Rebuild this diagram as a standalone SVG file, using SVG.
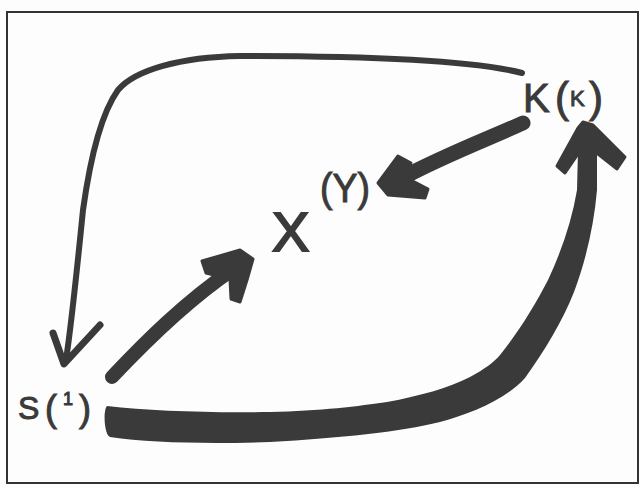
<svg xmlns="http://www.w3.org/2000/svg" width="640" height="488" viewBox="0 0 640 488">
<style>
.ink{fill:#3a3a3a}
.line{fill:none;stroke:#3a3a3a;stroke-linecap:round;stroke-linejoin:round}
.lbl{font-family:"Liberation Sans","DejaVu Sans",sans-serif;fill:#3a3a3a;stroke:#3a3a3a}
</style>
<rect width="640" height="488" fill="#fdfdfd"/>
<rect x="7" y="12" width="631" height="471" fill="none" stroke="#333" stroke-width="2"/>
<g id="connectors">
<g id="k-to-s">
<path class="line" stroke-width="6" d="M522,73 C480,62 380,56 240,56 C180,57 135,70 118,90 C100,115 90,160 83,210 C78,260 72,320 66,360"/>
<polyline class="line" stroke-width="7" points="53,333 64,364 100,325"/>
</g>
<g id="s-to-x">
<path class="line" stroke-width="14" d="M112,377 C145,342 185,302 232,270"/>
<polygon class="ink" stroke="#3a3a3a" stroke-width="3" stroke-linejoin="round" points="202,261 240,250 253,259 247,280 240,302 231,299 230,279 206,273"/>
</g>
<g id="k-to-y">
<path class="line" stroke-width="15" d="M523,123 C490,138 445,155 402,178"/>
<polygon class="ink" stroke="#3a3a3a" stroke-width="3" stroke-linejoin="round" points="378,183 398,156 411,163 405,177 428,189 425,198 388,195"/>
</g>
<g id="s-to-k">
<path class="ink" d="M107,406 C150,411 210,413 270,412 C320,411 360,406 387,402 C420,396 448,388 470,377 C485,369 494,362 500,355 C520,330 535,305 548,280 C562,250 572,220 577,190 L578,150 L597,150 L597,190 C594,225 586,260 574,292 C562,322 545,350 525,378 C505,400 470,414 440,422 C400,432 340,438 270,442 C210,444 150,443 110,437 C104,435 103,410 107,406 Z"/>
<polygon class="ink" stroke="#3a3a3a" stroke-width="3" stroke-linejoin="round" points="583,122 593,125 625,157 617,169 598,154 578,154 565,173 557,166 578,128"/>
</g>
</g>
<g id="node-k">
<text class="lbl" stroke-width="1" y="112"><tspan x="523" font-size="40">K</tspan><tspan x="555" font-size="42">(</tspan><tspan x="570" y="106" font-size="22">K</tspan><tspan x="589" y="112" font-size="42">)</tspan></text>
</g>
<g id="node-x">
<text class="lbl" stroke-width="2" x="272" y="251" font-size="56">X</text>
<text class="lbl" stroke-width="1" x="320" y="202" font-size="40" textLength="50" lengthAdjust="spacingAndGlyphs">(Y)</text>
</g>
<g id="node-s">
<text class="lbl" stroke-width="1" y="419"><tspan x="18" font-size="32">S</tspan><tspan x="45" y="421" font-size="36">(</tspan><tspan x="63" y="405" font-size="18">1</tspan><tspan x="79" y="421" font-size="36">)</tspan></text>
</g>
</svg>
